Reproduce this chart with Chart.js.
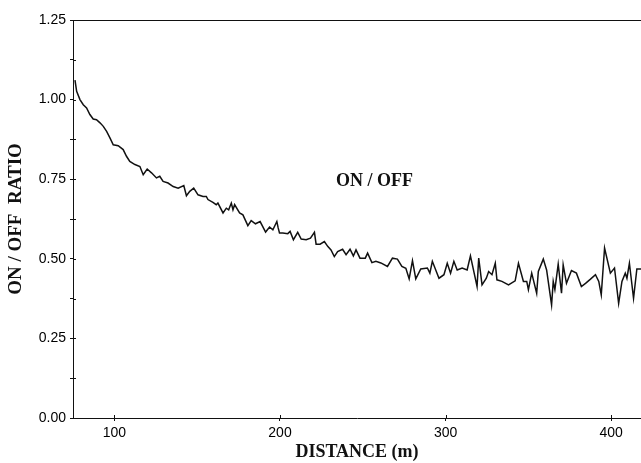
<!DOCTYPE html>
<html>
<head>
<meta charset="utf-8">
<title>ON/OFF ratio vs distance</title>
<script src="https://cdn.jsdelivr.net/npm/chart.js@4.4.0/dist/chart.umd.min.js"></script>
<style>
  html, body { margin: 0; padding: 0; background: #fff; }
  canvas { display: block; }
</style>
</head>
<body>
<canvas id="RatioChart" width="641" height="463"></canvas>
<script>
// values
var distance = [
  76.2, 77.2, 79.2, 81.2, 83.2, 85.2, 87.2, 89.2, 91.3, 93.3, 95.3, 97.3, 99.3,
  102.3, 105.3, 107.3, 109.3, 112.4, 115.4, 117.4, 119.8, 122.4, 125.4, 127.4,
  129.4, 132.4, 135.5, 138.5, 141.9, 143.5, 145.5, 147.9, 150.5, 153.5, 155.5,
  156.5, 159.5, 161.5, 162.5, 165.6, 167.6, 169, 170.6, 171.6, 172.6, 175.6,
  177.6, 180.6, 182.6, 185.2, 188, 191.3, 193.7, 195.7, 198.1, 198.9, 199.7,
  201.7, 204.7, 206.1, 208.1, 210.7, 212.8, 215.8, 218.4, 220.8, 221.8, 224.2,
  226.8, 228.8, 230.8, 232.8, 234.8, 237.8, 239.9, 242.3, 244.3, 245.9, 248.3,
  251.5, 252.9, 255.5, 257.9, 260.9, 264.9, 267.9, 270.9, 273.6, 276, 278, 280,
  282, 285, 289, 290.5, 292, 296, 299, 301, 303, 305, 307, 310, 313, 315, 319,
  320, 322, 324.6, 326, 328, 330, 331, 334, 338, 342, 344, 347, 349, 350, 352,
  355, 356, 359, 361, 364, 365, 366, 368, 370, 371, 373, 376, 379, 382, 384.5,
  387.5, 390.5, 392.5, 394, 396, 399.5, 402, 404.5, 406.5, 408.5, 409.5, 411,
  413.5, 415.5, 418
];
var ratio = [
  1.061, 1.026, 1.000, 0.984, 0.974, 0.953, 0.939, 0.937, 0.927, 0.916, 0.900, 0.880, 0.858,
  0.855, 0.843, 0.822, 0.806, 0.796, 0.790, 0.764, 0.782, 0.770, 0.754, 0.759,
  0.743, 0.738, 0.727, 0.722, 0.730, 0.698, 0.712, 0.722, 0.701, 0.696, 0.696,
  0.686, 0.677, 0.670, 0.675, 0.644, 0.659, 0.654, 0.675, 0.654, 0.670, 0.644,
  0.638, 0.604, 0.620, 0.610, 0.617, 0.584, 0.600, 0.591, 0.617, 0.597, 0.581,
  0.581, 0.579, 0.586, 0.560, 0.583, 0.562, 0.560, 0.565, 0.583, 0.546, 0.546,
  0.554, 0.539, 0.528, 0.507, 0.523, 0.530, 0.513, 0.530, 0.509, 0.528, 0.502,
  0.502, 0.518, 0.488, 0.492, 0.487, 0.476, 0.502, 0.499, 0.476, 0.470, 0.437, 0.494,
  0.437, 0.468, 0.471, 0.455, 0.492, 0.439, 0.450, 0.486, 0.455, 0.492, 0.465, 0.471, 0.465, 0.509, 0.413,
  0.502, 0.418, 0.439, 0.460, 0.450, 0.486, 0.434, 0.429, 0.418, 0.431, 0.486, 0.429, 0.429, 0.403, 0.455,
  0.392, 0.460, 0.499, 0.465, 0.355, 0.429, 0.403, 0.483, 0.392, 0.481, 0.423, 0.463, 0.455, 0.413, 0.423,
  0.436, 0.450, 0.429, 0.387, 0.534, 0.455, 0.471, 0.360, 0.429, 0.455, 0.439, 0.486,
  0.376, 0.468, 0.468
];
var xTicks = [100, 200, 300, 400];
var yTicks = [0, 0.125, 0.25, 0.375, 0.5, 0.625, 0.75, 0.875, 1, 1.125, 1.25];
var seriesLabel = "ON / OFF";

var points = distance.map(function (d, i) {
  return { x: d, y: ratio[i] };
});

// top frame line, inner half of tick marks and the in-plot label
var framePlugin = {
  id: "frame",
  afterDraw: function (chart) {
    var ctx = chart.ctx;
    var area = chart.chartArea;
    var xs = chart.scales.x;
    var ys = chart.scales.y;
    ctx.save();
    ctx.strokeStyle = "#111";
    ctx.lineWidth = 1;
    ctx.beginPath();
    ctx.moveTo(area.left, area.top + 0.5);
    ctx.lineTo(area.right, area.top + 0.5);
    yTicks.forEach(function (v) {
      var py = Math.round(ys.getPixelForValue(v)) + 0.5;
      ctx.moveTo(area.left, py);
      ctx.lineTo(area.left + 3, py);
    });
    xTicks.forEach(function (v) {
      var px = Math.round(xs.getPixelForValue(v)) + 0.5;
      ctx.moveTo(px, area.bottom);
      ctx.lineTo(px, area.bottom - 3);
    });
    ctx.stroke();

    ctx.fillStyle = "#111";
    ctx.font = "bold 18px 'Liberation Serif'";
    ctx.textAlign = "center";
    ctx.textBaseline = "middle";
    ctx.fillText(seriesLabel, xs.getPixelForValue(257), ys.getPixelForValue(0.742));
    ctx.restore();
  }
};

var ctx1 = document.getElementById("RatioChart").getContext("2d");
var chart1 = new Chart(ctx1, {
  type: "line",
  data: {
    datasets: [
      {
        label: seriesLabel,
        data: points,
        borderColor: "#111",
        borderWidth: 1.5,
        pointRadius: 0,
        tension: 0,
        fill: false
      }
    ]
  },
  options: {
    responsive: false,
    animation: false,
    layout: { padding: { top: 20, right: 0, bottom: 0, left: 0 } },
    plugins: {
      legend: { display: false },
      tooltip: { enabled: false }
    },
    scales: {
      x: {
        type: "linear",
        min: 75,
        max: 418,
        afterBuildTicks: function (axis) {
          axis.ticks = xTicks.map(function (v) { return { value: v }; });
        },
        afterFit: function (axis) { axis.height = 45; },
        grid: { drawOnChartArea: false, tickLength: 3, color: "#111" },
        border: { color: "#111", width: 1 },
        ticks: {
          color: "#000",
          padding: 4,
          maxRotation: 0,
          font: { family: "'Liberation Sans'", size: 14 }
        },
        title: {
          display: true,
          text: "DISTANCE (m)",
          color: "#111",
          padding: { top: 0, bottom: 0 },
          font: { family: "'Liberation Serif'", size: 18, weight: "bold" }
        }
      },
      y: {
        min: 0,
        max: 1.25,
        afterBuildTicks: function (axis) {
          axis.ticks = yTicks.map(function (v) { return { value: v }; });
        },
        afterFit: function (axis) { axis.width = 73; },
        grid: { drawOnChartArea: false, tickLength: 3, color: "#111" },
        border: { color: "#111", width: 1 },
        ticks: {
          color: "#000",
          padding: 4,
          font: { family: "'Liberation Sans'", size: 14 },
          callback: function (value) {
            // label only every quarter
            return Math.abs(value * 4 - Math.round(value * 4)) < 1e-6 ? value.toFixed(2) : "";
          }
        },
        title: {
          display: true,
          text: "ON / OFF  RATIO",
          color: "#111",
          padding: { top: 5, bottom: 0 },
          font: { family: "'Liberation Serif'", size: 19, weight: "bold" }
        }
      }
    }
  },
  plugins: [framePlugin]
});
</script>
</body>
</html>
